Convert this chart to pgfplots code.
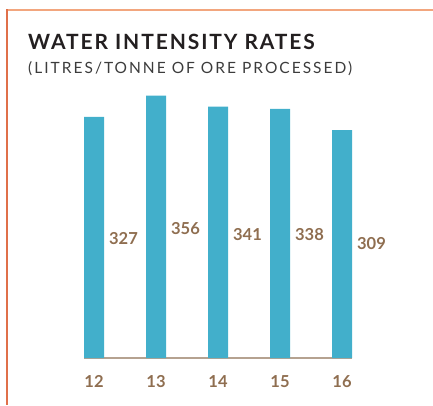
\documentclass[border=0pt]{standalone}
\usepackage{fontspec}
\setmainfont{Lato}
\newfontfamily\titlefont[LetterSpace=9]{Lato}
\newfontfamily\subfont[LetterSpace=13]{Lato}
\usepackage{pgfplots}
\pgfplotsset{compat=1.18}
\definecolor{barblue}{HTML}{42AFCB}
\definecolor{labbrown}{HTML}{8F6E50}
\definecolor{axbrown}{HTML}{B5A290}
\definecolor{framelight}{HTML}{F2A67E}
\definecolor{framedark}{HTML}{E0704A}
\definecolor{titleblack}{HTML}{231F20}
\definecolor{subgray}{HTML}{3C3C3C}
\begin{document}
\begin{tikzpicture}[x=1pt,y=1pt]
\path[use as bounding box] (0,0) rectangle (433,405);
\draw[framelight, line width=1.6pt] (7,395) -- (433,395);
\draw[framedark, line width=1.3pt] (7,395.8) -- (7,0);
\node[anchor=base west, inner sep=0pt, text=titleblack] at (28,355)
  {\titlefont\fontsize{21}{21}\selectfont\bfseries WATER INTENSITY RATES};
\node[anchor=base west, inner sep=0pt, text=subgray] at (28,331.5)
  {\subfont\fontsize{15.5}{15.5}\selectfont (LITRES/TONNE OF ORE PROCESSED)};
\begin{axis}[
  at={(84pt,47pt)}, anchor=south west,
  scale only axis, width=268pt, height=262.4pt,
  xmin=11.8387, xmax=16.1613, ymin=0, ymax=356,
  axis x line*=bottom, axis y line=none,
  x axis line style={axbrown, line width=1.5pt, -},
  xtick={12,13,14,15,16}, xticklabels={12,13,14,15,16},
  major tick length=0pt,
  xticklabel style={font=\fontsize{16.5}{16.5}\selectfont\bfseries, text=labbrown, anchor=base, yshift=-29pt},
  ytick=\empty,
  clip=false,
]
\addplot[ybar, bar width=20pt, fill=barblue, draw=none] coordinates {
  (12,327) (13,356) (14,341) (15,338) (16,309)
};
\addplot[only marks, mark=none, nodes near coords, point meta=explicit symbolic,
  every node near coord/.style={anchor=center, font=\fontsize{16.5}{16.5}\selectfont\bfseries, text=labbrown}]
  table[meta=label] {
x y label
12.476 161.5 327
13.476 176.0 356
14.476 166.9 341
15.476 166.9 338
16.476 155.4 309
};
\end{axis}
\end{tikzpicture}
\end{document}
